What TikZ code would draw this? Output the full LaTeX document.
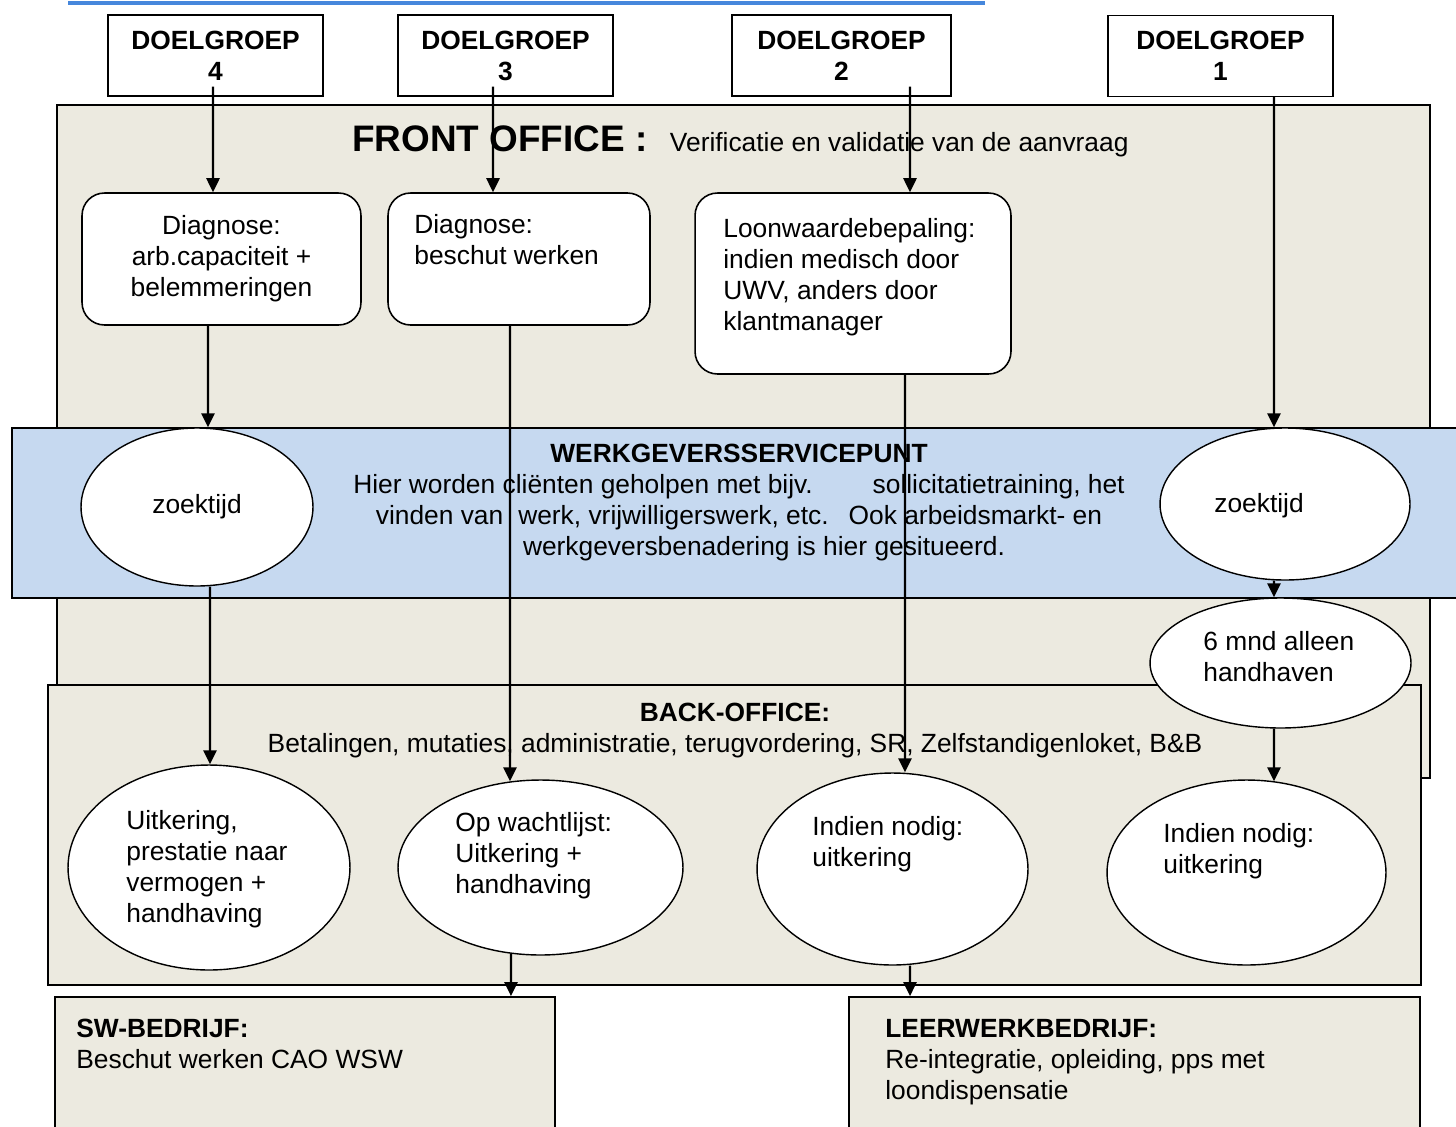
\documentclass[tikz,border=0pt]{standalone}
\usepackage{fontspec}
\setmainfont{Liberation Sans}
\usetikzlibrary{arrows.meta,shapes.geometric}
\definecolor{beige}{RGB}{236,234,224}
\definecolor{wspblauw}{RGB}{198,217,240}
\definecolor{linkblauw}{RGB}{70,135,220}
\newcommand{\tekstmaat}{\fontsize{15}{17.6}\selectfont}
\tikzset{
  doelgroep/.style = {rectangle, draw, line width=0.8pt, fill=white,
                      font=\tekstmaat\bfseries, align=center, inner sep=0pt,
                      minimum width=4.3cm, minimum height=1.62cm},
  kader/.style     = {rectangle, draw, line width=1.1pt, fill=beige,
                      inner sep=0pt},
  stap/.style      = {rectangle, rounded corners=0.45cm, draw, line width=0.9pt,
                      fill=white, inner sep=0pt, minimum height=2.64cm},
  ovaal/.style     = {ellipse, draw, line width=0.8pt, fill=white, inner sep=0pt},
  tekst/.style     = {anchor=north west, align=left, inner sep=0pt},
  kop/.style       = {anchor=north, align=center, inner sep=0pt},
  pijl/.style      = {-{Triangle[length=8pt,width=7.5pt]}, line width=1.25pt},
}

\begin{document}
\begin{tikzpicture}[x=0.02cm, y=-0.02cm, font=\tekstmaat]
    \useasboundingbox (0,0) rectangle (1456,1126);
    \clip (0,0) rectangle (1456,1126);

    % --- kopregel
    \draw[linkblauw, line width=2.8pt] (68,3) -- (985,3);

    % --- doelgroepen
    \node[doelgroep] (dg4) at (215.5,55.5) {DOELGROEP\\4};
    \node[doelgroep] (dg3) at (505.5,55.5) {DOELGROEP\\3};
    \node[doelgroep, minimum width=4.38cm] (dg2) at (841.5,55.5) {DOELGROEP\\2};
    \node[doelgroep, minimum width=4.5cm] (dg1) at (1220.5,56) {DOELGROEP\\1};

    % --- front office
    \node[kader, minimum width=27.46cm, minimum height=13.46cm] (fo) at (743.5,441.5) {};
    \node[anchor=base west, inner sep=0pt] (fotitel) at (352,151)
      {{\fontsize{21}{25}\selectfont\bfseries FRONT OFFICE :}\hspace{0.45cm}Verificatie en validatie van de aanvraag};
    \node[stap, minimum width=5.58cm, align=center] (diag1) at (221.5,259)
      {Diagnose:\\arb.capaciteit +\\belemmeringen};
    \node[stap, minimum width=5.24cm] (diag2) at (519,259) {};
    \node[tekst] (diag2tekst) at (414,214) {Diagnose:\\beschut werken};
    \node[stap, minimum width=6.32cm, minimum height=3.62cm] (loon) at (853,283.5) {};
    \node[tekst] (loontekst) at (723,218)
      {Loonwaardebepaling:\\indien medisch door\\UWV, anders door\\klantmanager};

    % --- werkgeversservicepunt
    \node[kader, fill=wspblauw, minimum width=29.16cm, minimum height=3.4cm] (wsp) at (741,513) {};
    \node[kop] (wsptekst) at (739,444)
      {\textbf{WERKGEVERSSERVICEPUNT}\\
       Hier worden cliënten geholpen met bijv.\hspace{1.2cm}sollicitatietraining, het\\
       vinden van\hspace{0.3cm}werk, vrijwilligerswerk, etc.\hspace{0.4cm}Ook arbeidsmarkt- en\\
       \hspace*{1cm}werkgeversbenadering is hier gesitueerd.};
    \node[ovaal, minimum width=4.64cm, minimum height=3.16cm] (zoek1) at (197,507) {zoektijd};
    \node[ovaal, minimum width=5cm, minimum height=3.04cm] (zoek2) at (1285,504) {};
    \node[tekst] (zoek2tekst) at (1214,493) {zoektijd};

    % --- back office
    \node[kader, minimum width=27.46cm, minimum height=6cm] (bo) at (734.5,835) {};
    \node[kop] (botekst) at (735,703)
      {\textbf{BACK-OFFICE:}\\
       Betalingen, mutaties, administratie, terugvordering, SR, Zelfstandigenloket, B\&B};
    \node[ovaal, minimum width=5.22cm, minimum height=2.6cm] (zesmnd) at (1280.5,663) {};
    \node[tekst] (zesmndtekst) at (1203,631) {6 mnd alleen\\handhaven};
    \node[ovaal, minimum width=5.64cm, minimum height=4.1cm] (uitk) at (209,867.5) {};
    \node[tekst] (uitktekst) at (126,810) {Uitkering,\\prestatie naar\\vermogen +\\handhaving};
    \node[ovaal, minimum width=5.7cm, minimum height=3.5cm] (wacht) at (540.5,867.5) {};
    \node[tekst] (wachttekst) at (455,812) {Op wachtlijst:\\Uitkering +\\handhaving};
    \node[ovaal, minimum width=5.42cm, minimum height=3.84cm] (ind1) at (892.5,869) {};
    \node[tekst] (ind1tekst) at (812,816) {Indien nodig:\\uitkering};
    \node[ovaal, minimum width=5.58cm, minimum height=3.7cm] (ind2) at (1246.5,872.5) {};
    \node[tekst] (ind2tekst) at (1163,823) {Indien nodig:\\uitkering};

    % --- bedrijven
    \node[kader, minimum width=10cm, minimum height=3.2cm] (sw) at (305,1077) {};
    \node[tekst] (swtekst) at (76,1019) {\textbf{SW-BEDRIJF:}\\Beschut werken CAO WSW};
    \node[kader, minimum width=11.42cm, minimum height=3.2cm] (leer) at (1134.5,1077) {};
    \node[tekst] (leertekst) at (885,1019)
      {\textbf{LEERWERKBEDRIJF:}\\Re-integratie, opleiding, pps met\\loondispensatie};

    % --- pijlen
    \draw[pijl] ([xshift=-0.05cm,yshift=0.2cm]dg4.south) -- ([xshift=-0.17cm]diag1.north);
    \draw[pijl] ([xshift=-0.25cm,yshift=0.2cm]dg3.south) -- ([xshift=-0.52cm]diag2.north);
    \draw[pijl] ([xshift=1.37cm,yshift=0.2cm]dg2.south) -- ([xshift=1.14cm]loon.north);
    \draw[pijl] ([xshift=1.07cm]dg1.south) -- ([xshift=-0.22cm]zoek2.north);
    \draw[pijl] ([xshift=-0.27cm]diag1.south) -- ([xshift=0.22cm]zoek1.north);
    \draw[pijl] ([xshift=0.26cm]zoek1.south) -- ([xshift=0.02cm]uitk.north);
    \draw[pijl] ([xshift=-0.18cm]diag2.south) -- ([xshift=-0.61cm,yshift=-0.04cm]wacht.north);
    \draw[pijl] ([xshift=-0.59cm,yshift=0.04cm]wacht.south) -- ([xshift=4.12cm]sw.north);
    \draw[pijl] ([xshift=1.04cm]loon.south) -- ([xshift=0.25cm]ind1.north);
    \draw[pijl] ([xshift=0.35cm]ind1.south) -- ([xshift=-4.49cm]leer.north);
    \draw[pijl] ([xshift=-0.22cm]zoek2.south) -- ([xshift=-0.13cm]zesmnd.north);
    \draw[pijl] ([xshift=-0.13cm]zesmnd.south) -- ([xshift=0.55cm,yshift=-0.04cm]ind2.north);
\end{tikzpicture}
\end{document}
